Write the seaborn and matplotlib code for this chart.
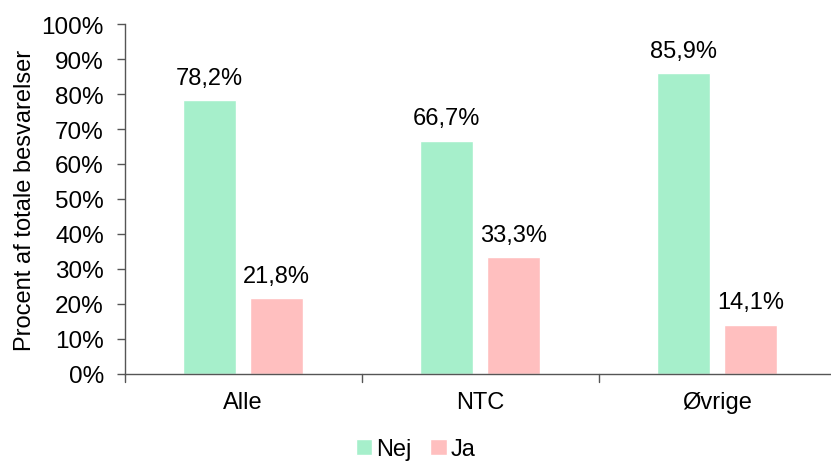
import pandas as pd
import matplotlib.pyplot as plt
import seaborn as sns

groups = ['Alle', 'NTC', 'Øvrige']
nej = [78.2, 66.7, 85.9]
ja = [21.8, 33.3, 14.1]
series = ['Nej', 'Ja']
colors = ['#A6EFCB', '#FFBFBF']

df = pd.DataFrame({
    'group': groups * 2,
    'svar': ['Nej'] * 3 + ['Ja'] * 3,
    'pct': nej + ja,
})

sns.set_style('white')
plt.rcParams['font.family'] = ['Liberation Sans', 'DejaVu Sans']
plt.rcParams['text.color'] = 'black'
plt.rcParams['xtick.color'] = 'black'
plt.rcParams['ytick.color'] = 'black'
plt.rcParams['axes.labelcolor'] = 'black'

fig = plt.figure(figsize=(8.31, 4.64), dpi=100)
ax = fig.add_axes([0.150, 0.192, 0.85, 0.754])
sns.barplot(data=df, x='group', y='pct', hue='svar', hue_order=series,
            palette=colors, width=0.564, gap=0.21, ax=ax, legend=True,
            saturation=1)

for cont in ax.containers:
    for p in cont:
        h = p.get_height()
        ax.annotate(f'{h:.1f}%'.replace('.', ','),
                    (p.get_x() + p.get_width() / 2, h),
                    ha='center', va='bottom', xytext=(0, 8),
                    textcoords='offset points', fontsize=17, color='black')

ax.set_ylim(0, 100)
ax.set_xlim(-0.5, 2.48)
ax.set_yticks(range(0, 101, 10))
ax.set_yticklabels([f'{v}%' for v in range(0, 101, 10)], fontsize=17.5)
ax.set_xticks([0, 1, 2])
ax.set_xticklabels(groups, fontsize=17)
ax.tick_params(axis='x', length=0, pad=12, labelcolor='black')
ax.tick_params(axis='y', length=6, width=1, color='#555555', direction='out', left=True, pad=9,
               labelcolor='black')
# category separator ticks
for xb in [-0.5, 0.5, 1.5, 2.5]:
    ax.plot([xb, xb], [0, -2.2], color='#555555', lw=1, clip_on=False)
ax.set_xlabel('')
ax.set_ylabel('Procent af totale besvarelser', fontsize=17, labelpad=4, color='black')
for s in ['top', 'right']:
    ax.spines[s].set_visible(False)
for s in ['left', 'bottom']:
    ax.spines[s].set_color('#555555')
    ax.spines[s].set_linewidth(1)

handles, labels = ax.get_legend_handles_labels()
ax.legend_.remove()
fig.legend(handles, labels, loc='center', bbox_to_anchor=(0.5, 0.03),
           ncol=2, frameon=False, fontsize=17, handlelength=0.7, handleheight=0.7,
           handletextpad=0.15, columnspacing=0.8)

fig.savefig('out.png', dpi=100)
